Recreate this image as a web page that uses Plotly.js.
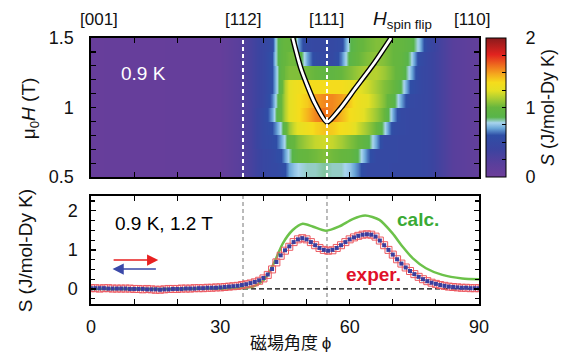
<!DOCTYPE html>
<html><head><meta charset="utf-8">
<script src="https://cdn.plot.ly/plotly-3.0.1.min.js"></script>
<style>body{margin:0;background:#fff}#c{width:570px;height:355px}</style>
</head><body><div id="c"></div>
<script>
// ---- heat map (top panel) ----
const angleGrid = [0,30,34,37,40,42,43,44,45,46,47,48,50,52,54,56,58,60,62,64,66,68,70,72,74,76,78,81,84,90];
const fields = [0.55,0.65,0.75,0.85,0.95,1.05,1.15,1.25,1.35,1.45];
const heat_055 = [0.06,0.08,0.18,0.32,0.45, 0.5,0.5,0.55,0.6,0.7, 0.75,0.78,0.8,0.8,0.82, 0.8,0.8,0.75,0.65,0.5, 0.5,0.5,0.48,0.48,0.48, 0.48,0.45,0.33,0.2,0.1];
const heat_065 = [0.06,0.08,0.18,0.32,0.45, 0.5,0.55,0.6,0.7,0.8, 0.9,0.97,1.0,1.02,1.05, 1.02,1.0,0.97,0.85,0.65, 0.5,0.5,0.5,0.48,0.48, 0.48,0.45,0.33,0.2,0.1];
const heat_075 = [0.06,0.08,0.18,0.32,0.5, 0.55,0.6,0.7,0.8,0.95, 1.0,1.05,1.12,1.18,1.2, 1.18,1.12,1.05,1.0,0.9, 0.7,0.5,0.5,0.48,0.48, 0.48,0.45,0.33,0.2,0.1];
const heat_085 = [0.06,0.08,0.18,0.32,0.5, 0.6,0.68,0.8,0.95,1.1, 1.2,1.25,1.32,1.38,1.42, 1.4,1.35,1.3,1.2,1.1, 1.0,0.8,0.55,0.5,0.48, 0.48,0.45,0.33,0.2,0.1];
const heat_095 = [0.06,0.08,0.18,0.32,0.5, 0.7,0.85,1.0,1.15,1.25, 1.3,1.35,1.45,1.55,1.6, 1.55,1.45,1.35,1.3,1.2, 1.1,1.0,0.7,0.5,0.48, 0.48,0.45,0.33,0.2,0.1];
const heat_105 = [0.06,0.08,0.18,0.32,0.45, 0.65,0.8,1.0,1.15,1.25, 1.3,1.35,1.4,1.5,1.55, 1.55,1.5,1.4,1.3,1.25, 1.15,1.05,0.9,0.7,0.5, 0.48,0.45,0.33,0.2,0.1];
const heat_115 = [0.06,0.08,0.18,0.32,0.45, 0.6,0.75,0.95,1.15,1.25, 1.3,1.32,1.35,1.35,1.35, 1.35,1.35,1.3,1.25,1.2, 1.12,1.05,1.0,0.85,0.6, 0.5,0.45,0.33,0.2,0.1];
const heat_125 = [0.06,0.08,0.18,0.32,0.45, 0.6,0.75,0.95,1.02,1.05, 1.05,1.05,1.02,1.0,0.95, 0.95,1.0,1.05,1.1,1.15, 1.15,1.1,1.02,0.95,0.75, 0.5,0.45,0.33,0.2,0.1];
const heat_135 = [0.06,0.08,0.18,0.32,0.45, 0.6,0.8,0.95,1.0,1.02, 1.02,0.95,0.7,0.55,0.5, 0.5,0.65,0.9,1.0,1.05, 1.08,1.05,1.0,0.97,0.82, 0.55,0.45,0.33,0.2,0.1];
const heat_145 = [0.06,0.08,0.18,0.32,0.45, 0.55,0.8,0.95,1.0,1.0, 0.95,0.7,0.5,0.48,0.48, 0.5,0.55,0.85,0.98,1.02, 1.05,1.05,1.0,0.98,0.92, 0.75,0.5,0.33,0.2,0.1];
const heatRows = [heat_055,heat_065,heat_075,heat_085,heat_095,heat_105,heat_115,heat_125,heat_135,heat_145];

// spin-flip field curve
const sfAngle = [46.8,48.7,51.8,54.74,58.0,61.1,65.7,69.6];
const sfField = [1.5,1.28,1.04,0.895,1.0,1.13,1.32,1.5];

// ---- bottom panel ----
const calcAngle = [0,10,20,30,34,36,38,40,41.4,43,44.5,46.8,49.1,51.4,54.5,57.6,60.7,63.6,66.9,69.9,72.3,74.6,77.7,81.5,86.1,90];
const calcS     = [0,0,0,0.01,0.02,0.03,0.08,0.22,0.44,0.8,1.17,1.51,1.67,1.6,1.49,1.6,1.79,1.88,1.77,1.43,1.08,0.79,0.53,0.36,0.27,0.25];

const expAngle = Array.from({length:91},(_,i)=>i);
const expUp = [0.02,0.02,0.01,0.02,0.02,0.01,0.01,0.01,0.01,0.01,
  0.0,0.0,-0.01,0.0,-0.01,-0.02,-0.02,-0.01,0.0,0.0,
  0.0,0.01,0.01,0.01,0.02,0.02,0.02,0.03,0.03,0.04,
  0.04,0.05,0.06,0.07,0.08,0.1,0.12,0.14,0.17,0.21,
  0.27,0.36,0.5,0.68,0.85,0.98,1.08,1.2,1.27,1.3,
  1.27,1.2,1.12,1.05,1.0,0.98,0.99,1.05,1.12,1.2,
  1.27,1.32,1.36,1.39,1.4,1.39,1.34,1.24,1.12,1.0,
  0.88,0.76,0.65,0.55,0.46,0.38,0.31,0.25,0.2,0.16,
  0.13,0.1,0.08,0.06,0.05,0.04,0.03,0.03,0.02,0.02,0.02];
const expDown = [0.02,0.02,0.02,0.02,0.01,0.01,0.01,0.01,0.01,0.0,
  0.0,0.0,0.0,-0.01,-0.01,-0.01,-0.02,-0.01,-0.01,0.0,
  0.0,0.0,0.01,0.01,0.01,0.02,0.02,0.03,0.03,0.03,
  0.04,0.05,0.06,0.07,0.08,0.1,0.12,0.15,0.18,0.22,
  0.28,0.37,0.51,0.69,0.86,0.99,1.09,1.2,1.27,1.3,
  1.27,1.2,1.12,1.05,1.0,0.98,1.0,1.05,1.12,1.2,
  1.27,1.32,1.36,1.39,1.4,1.39,1.34,1.24,1.12,1.0,
  0.88,0.76,0.65,0.55,0.46,0.38,0.31,0.25,0.2,0.16,
  0.13,0.1,0.08,0.06,0.05,0.04,0.03,0.03,0.02,0.02,0.02];

const dirLabels = ['[001]','[112]','[111]','[110]'];
const dirAngles = [1.9,35.26,54.74,88.4];

// build stepped heat grid (sharp field rows)
const hy = [], hz = [];
fields.forEach((f,i)=>{ hy.push(f-0.0495, f+0.0495); hz.push(heatRows[i], heatRows[i]); });

const cscale = [
 [0,'#6d3e9a'],[0.1,'#583f9c'],[0.2,'#3b44a0'],[0.3,'#2f4ea6'],[0.35,'#6aa6d8'],
 [0.39,'#a8d4ee'],[0.43,'#58b44a'],[0.5,'#66b63e'],[0.56,'#a6cc34'],[0.62,'#e4e024'],
 [0.68,'#f5dc1c'],[0.74,'#f5a81e'],[0.8,'#ef701e'],[0.88,'#e2231f'],[1,'#8a1a1c']];

const cbTicks = [0,0.25,0.5,0.75,1,1.25,1.5,1.75,2];
const nb = '\u00a0\u00a0\u00a0';
const cbText = cbTicks.map(v => Number.isInteger(v) ? nb+String(v) : ' ');

const traces = [
 {type:'heatmap', x:angleGrid, y:hy, z:hz, zsmooth:'best', zmin:0, zmax:2,
  colorscale:cscale, xaxis:'x', yaxis:'y', hoverinfo:'skip',
  colorbar:{x:1.018, xanchor:'left', xpad:0, ypad:0, y:1, yanchor:'top', len:0.523, lenmode:'fraction',
    thickness:20, thicknessmode:'pixels', outlinewidth:1, outlinecolor:'#000',
    tickvals:cbTicks, ticktext:cbText, ticks:'inside', ticklen:4, tickcolor:'#000',
    tickfont:{size:18}, title:{text:'<i>S</i> (J/mol-Dy K)', side:'right', font:{size:18}}}},
 {type:'scatter', mode:'lines', x:sfAngle, y:sfField, xaxis:'x', yaxis:'y',
  line:{color:'#000', width:5.5, shape:'spline', smoothing:0.6}, hoverinfo:'skip'},
 {type:'scatter', mode:'lines', x:sfAngle, y:sfField, xaxis:'x', yaxis:'y',
  line:{color:'#fff', width:2.8, shape:'spline', smoothing:0.6}, hoverinfo:'skip'},
 {type:'scatter', mode:'lines', x:calcAngle, y:calcS, xaxis:'x2', yaxis:'y2',
  line:{color:'#6cc24a', width:2.5, shape:'spline', smoothing:0.7}},
 {type:'scatter', mode:'markers', x:expAngle, y:expUp, xaxis:'x2', yaxis:'y2',
  marker:{symbol:'square-open', size:7, color:'#ec5a62', line:{width:1}}},
 {type:'scatter', mode:'markers', x:expAngle, y:expDown, xaxis:'x2', yaxis:'y2',
  marker:{symbol:'square', size:4, color:'#3a3f9e'}}
];

const axBase = {showline:true, linecolor:'#000', linewidth:1.6, mirror:'ticks', showgrid:false, zeroline:false,
  ticks:'inside', ticklen:5, tickwidth:1.2, tickcolor:'#000'};

const shapes = [];
[35.26,54.74].forEach(a=>{
  shapes.push({type:'line', xref:'x', yref:'y domain', x0:a, x1:a, y0:0, y1:1,
    line:{color:'#fff', width:2, dash:'4px,3px'}});
  shapes.push({type:'line', xref:'x2', yref:'y2 domain', x0:a, x1:a, y0:0, y1:1, layer:'below',
    line:{color:'#777', width:1, dash:'4px,3px'}});
});
shapes.push({type:'line', xref:'x2', yref:'y2', x0:0, x1:90, y0:0, y1:0, layer:'below',
  line:{color:'#000', width:1.2, dash:'5px,3px'}});
// colorbar mark at 1
shapes.push({type:'line', xref:'paper', yref:'paper', x0:(488-91)/390, x1:(494-91)/390, y0:0.7387, y1:0.7387, line:{color:'#000', width:1.5}});
shapes.push({type:'line', xref:'paper', yref:'paper', x0:(502-91)/390, x1:(508-91)/390, y0:0.7387, y1:0.7387, line:{color:'#000', width:1.5}});

const annotations = [];
dirLabels.forEach((t,i)=>annotations.push({text:t, xref:'x', yref:'paper', x:dirAngles[i], y:1.068,
  showarrow:false, font:{size:17}, xanchor:'center', yanchor:'middle'}));
annotations.push({text:'<i>H</i><sub>spin flip</sub>', xref:'x', yref:'paper', x:72.3, y:1.068,
  showarrow:false, font:{size:19}, xanchor:'center', yanchor:'middle'});
annotations.push({text:'0.9 K', xref:'x', yref:'y', x:6.5, y:1.245, showarrow:false,
  font:{size:19, color:'#fff'}, xanchor:'left', yanchor:'middle'});
annotations.push({text:'0.9 K, 1.2 T', xref:'x2', yref:'y2', x:5.0, y:1.67, showarrow:false,
  font:{size:19, color:'#000'}, xanchor:'left', yanchor:'middle'});
annotations.push({text:'<b>calc.</b>', xref:'x2', yref:'y2', x:75.8, y:1.78, showarrow:false,
  font:{size:19, color:'#3aaa35'}, xanchor:'center', yanchor:'middle'});
annotations.push({text:'<b>exper.</b>', xref:'x2', yref:'y2', x:65.5, y:0.37, showarrow:false,
  font:{size:19, color:'#e0102a'}, xanchor:'center', yanchor:'middle'});
annotations.push({text:'', xref:'x2', yref:'y2', axref:'x2', ayref:'y2', x:15.6, y:0.74, ax:4.9, ay:0.74,
  showarrow:true, arrowhead:2, arrowsize:1.4, arrowwidth:1.6, arrowcolor:'#e82020'});
annotations.push({text:'', xref:'x2', yref:'y2', axref:'x2', ayref:'y2', x:5.0, y:0.51, ax:15.4, ay:0.51,
  showarrow:true, arrowhead:2, arrowsize:1.4, arrowwidth:1.6, arrowcolor:'#3a48a8'});
annotations.push({text:'μ<sub>0</sub><i>H</i> (T)', xref:'paper', yref:'paper', x:(30-91)/390, y:0.737,
  textangle:-90, showarrow:false, font:{size:19}, xanchor:'center', yanchor:'middle'});
annotations.push({text:'S (J/mol-Dy K)', xref:'paper', yref:'paper', x:(25-91)/390, y:0.203,
  textangle:-90, showarrow:false, font:{size:19}, xanchor:'center', yanchor:'middle'});
annotations.push({text:'磁場角度 ϕ', xref:'paper', yref:'paper', x:(292-91)/390, y:(304-341)/266,
  showarrow:false, font:{size:17, family:'Noto Sans CJK JP, sans-serif'}, xanchor:'center', yanchor:'middle'});

const layout = {
  width:570, height:355, margin:{l:91, r:89, t:38, b:51},
  paper_bgcolor:'#fff', plot_bgcolor:'#fff', showlegend:false,
  font:{family:'Liberation Sans, Arial, sans-serif', size:17, color:'#111'},
  xaxis:Object.assign({}, axBase, {anchor:'y', domain:[0,1], range:[0,90], tickvals:[0,30,60,90], showticklabels:false,
    minor:{dtick:10, ticks:'inside', ticklen:5, tickcolor:'#000'}}),
  yaxis:Object.assign({}, axBase, {anchor:'x', domain:[0.477,1], range:[0.5,1.5], tickvals:[0.5,1,1.5], ticktext:['0.5','1','1.5'],
    tickfont:{size:18}, ticklabelstandoff:12, minor:{dtick:0.1, ticks:'inside', ticklen:5, tickcolor:'#000'}}),
  xaxis2:Object.assign({}, axBase, {anchor:'y2', domain:[0,1], range:[0,90], tickvals:[0,30,60,90], ticktext:['0','30','60','90'],
    tickfont:{size:18}, ticklabelstandoff:6, minor:{dtick:10, ticks:'inside', ticklen:5, tickcolor:'#000'}}),
  yaxis2:Object.assign({}, axBase, {anchor:'x2', domain:[0,0.406], range:[-0.385,2.38], tickvals:[0,1,2], ticktext:['0','1','2'],
    tickfont:{size:18}, ticklabelstandoff:8, minor:{dtick:0.25, ticks:'inside', ticklen:4, tickcolor:'#000'}}),
  shapes:shapes, annotations:annotations
};

Plotly.newPlot('c', traces, layout, {staticPlot:true, displayModeBar:false});
</script></body></html>
